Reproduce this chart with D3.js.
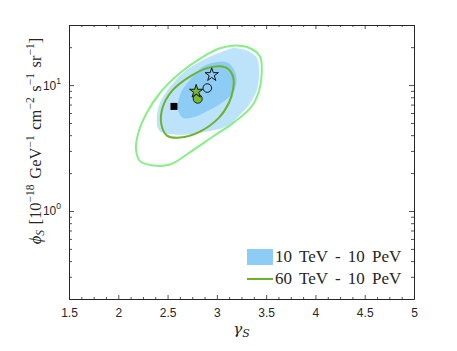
<!DOCTYPE html>
<html><head><meta charset="utf-8">
<script src="https://cdn.jsdelivr.net/npm/d3@7"></script>
<style>body{margin:0;background:#fff}svg{display:block}</style>
</head><body>
<svg id="c" width="457" height="351"></svg>
<script>
// ---- data ----
const xTicks = [1.5, 2, 2.5, 3, 3.5, 4, 4.5, 5];
const xTickLabels = ["1.5", "2", "2.5", "3", "3.5", "4", "4.5", "5"];
const yTicks = [1, 10];
const yTickExp = ["0", "1"];
// 10 TeV - 10 PeV, outer (2 sigma) region
const outerBlue = [[3.164,19.73],[3.316,18.68],[3.407,16.44],[3.428,12.52],[3.407,9.18],[3.326,6.98],[3.235,5.82],[3.100,4.70],[2.829,4.19],[2.593,4.04],[2.423,4.29],[2.390,5.31],[2.423,7.24],[2.542,10.05],[2.694,13.21],[2.897,16.35],[3.100,19.02]];
// 10 TeV - 10 PeV, inner (1 sigma) region
const innerBlue = [[3.032,15.37],[2.859,14.03],[2.728,11.01],[2.626,8.38],[2.606,6.38],[2.660,5.48],[2.778,5.61],[2.897,6.18],[3.052,7.24],[3.164,8.69],[3.201,11.01],[3.174,13.21],[3.113,15.01]];
// 60 TeV - 10 PeV, outer contour
const outerGreen = [[3.167,20.57],[3.336,19.62],[3.438,16.84],[3.455,12.45],[3.431,9.18],[3.354,6.77],[3.167,5.01],[2.964,3.92],[2.694,2.81],[2.525,2.34],[2.355,2.30],[2.220,2.49],[2.180,3.08],[2.203,4.17],[2.288,6.00],[2.423,8.65],[2.626,12.45],[2.862,16.84],[3.032,19.62]];
// 60 TeV - 10 PeV, inner contour
const innerGreen = [[3.032,14.08],[3.113,13.46],[3.167,11.42],[3.164,9.18],[3.123,7.24],[3.022,5.51],[2.829,4.27],[2.626,3.83],[2.494,3.97],[2.438,4.85],[2.449,6.61],[2.545,9.01],[2.738,11.85],[2.910,13.70]];
// markers
const squarePt = [2.565, 6.77];
const greenCirclePt = [2.806, 7.79];
const openCirclePt = [2.903, 9.47];
const greenStarPt = [2.79, 8.9];
const openStarPt = [2.948, 12.06];
const legendLabels = ["10 TeV - 10 PeV", "60 TeV - 10 PeV"];

// ---- layout ----
const L = 69, R = 414, T = 25, B = 299;
const svg = d3.select("#c");
const x = d3.scaleLinear().domain([1.5, 5]).range([L, R]);
const y = d3.scaleLog().domain([0.2, 30]).range([B, T]);
const axisColor = "#262626";

const line = d3.line().x(d => x(d[0])).y(d => y(d[1])).curve(d3.curveCatmullRomClosed.alpha(0.5));

svg.append("path").attr("d", line(outerBlue)).attr("fill", "#bde3fb");
svg.append("path").attr("d", line(innerBlue)).attr("fill", "#8dcdf5");
svg.append("path").attr("d", line(outerGreen)).attr("fill", "none").attr("stroke", "#86f086").attr("stroke-width", 2);
svg.append("path").attr("d", line(innerGreen)).attr("fill", "none").attr("stroke", "#6cb32a").attr("stroke-width", 2);

// markers
svg.append("rect").attr("x", x(squarePt[0]) - 3.5).attr("y", y(squarePt[1]) - 3.5).attr("width", 7).attr("height", 7).attr("fill", "#000");
svg.append("circle").attr("cx", x(greenCirclePt[0])).attr("cy", y(greenCirclePt[1])).attr("r", 4.5).attr("fill", "#77bb2a").attr("stroke", "#222").attr("stroke-width", 1);
svg.append("circle").attr("cx", x(openCirclePt[0])).attr("cy", y(openCirclePt[1])).attr("r", 4.3).attr("fill", "none").attr("stroke", "#111").attr("stroke-width", 1);
const star = d3.symbol().type(d3.symbolStar).size(55);
svg.append("path").attr("d", star()).attr("transform", `translate(${x(greenStarPt[0])},${y(greenStarPt[1])})`).attr("fill", "#77bb2a").attr("stroke", "#111").attr("stroke-width", 1);
svg.append("path").attr("d", star()).attr("transform", `translate(${x(openStarPt[0])},${y(openStarPt[1])})`).attr("fill", "none").attr("stroke", "#111").attr("stroke-width", 1);

// axes
const xMinor = d3.range(1.5, 5.0001, 0.125).filter(v => Math.abs(v * 2 - Math.round(v * 2)) > 1e-6);
const yMinor = [];
[0.1, 1, 10].forEach(dec => { for (let k = 2; k <= 9; k++) { const v = k * dec; if (v >= 0.2 && v <= 30) yMinor.push(v); } });

const fontTick = "'Liberation Sans', Arial, sans-serif";
// bottom
const gB = svg.append("g").attr("transform", `translate(0,${B})`)
  .call(d3.axisBottom(x).tickValues(xTicks).tickSizeInner(-4).tickSizeOuter(0).tickPadding(9).tickFormat((d, i) => xTickLabels[i]));
svg.append("g").attr("transform", `translate(0,${B})`).call(d3.axisBottom(x).tickValues(xMinor).tickSizeInner(-2).tickSizeOuter(0).tickFormat("")).select(".domain").remove();
// top
svg.append("g").attr("transform", `translate(0,${T})`).call(d3.axisTop(x).tickValues(xTicks).tickSizeInner(-4).tickSizeOuter(0).tickFormat(""));
svg.append("g").attr("transform", `translate(0,${T})`).call(d3.axisTop(x).tickValues(xMinor).tickSizeInner(-2).tickSizeOuter(0).tickFormat("")).select(".domain").remove();
// left
svg.append("g").attr("transform", `translate(${L},0)`)
  .call(d3.axisLeft(y).tickValues(yTicks).tickSizeInner(-5).tickSizeOuter(0).tickFormat(""));
svg.append("g").attr("transform", `translate(${L},0)`).call(d3.axisLeft(y).tickValues(yMinor).tickSizeInner(-3).tickSizeOuter(0).tickFormat("")).select(".domain").remove();
// right
svg.append("g").attr("transform", `translate(${R},0)`).call(d3.axisRight(y).tickValues(yTicks).tickSizeInner(-5).tickSizeOuter(0).tickFormat(""));
svg.append("g").attr("transform", `translate(${R},0)`).call(d3.axisRight(y).tickValues(yMinor).tickSizeInner(-3).tickSizeOuter(0).tickFormat("")).select(".domain").remove();

svg.selectAll(".domain").attr("stroke", axisColor).attr("stroke-width", 1);
svg.selectAll(".tick line").attr("stroke", axisColor).attr("stroke-width", 0.8);
gB.selectAll("text").attr("font-family", fontTick).attr("font-size", 12).attr("fill", axisColor);

// y tick labels with superscripts
yTicks.forEach((v, i) => {
  const t = svg.append("text").attr("x", L - 8).attr("y", y(v) + 4.5).attr("text-anchor", "end")
    .attr("font-family", fontTick).attr("font-size", 12).attr("fill", axisColor);
  t.append("tspan").text("10");
  t.append("tspan").attr("dy", -6).attr("font-size", 8.5).text(yTickExp[i]);
});

// axis titles
const serif = "'DejaVu Serif', 'Liberation Serif', serif";
const xl = svg.append("text").attr("x", (L + R) / 2).attr("y", 334).attr("text-anchor", "middle")
  .attr("font-family", serif).attr("font-size", 15).attr("fill", axisColor);
xl.append("tspan").attr("font-style", "italic").text("γ");
xl.append("tspan").attr("font-style", "italic").attr("font-size", 11).attr("dy", 3).text("S");

const yl = svg.append("text").attr("transform", `translate(41,141) rotate(-90)`).attr("text-anchor", "middle")
  .attr("font-family", "'Liberation Serif', serif").attr("font-size", 16.5).attr("fill", axisColor)
  .attr("word-spacing", 1.5);
function part(txt, opts) { const s = yl.append("tspan").text(txt); if (opts) Object.entries(opts).forEach(([k, v]) => s.attr(k, v)); return s; }
part("ϕ", {"font-style": "italic"});
part("S", {"font-style": "italic", "font-size": 11.5, "dy": 3});
part(" [10", {"dy": -3});
part("−18", {"font-size": 11.5, "dy": -7});
part(" GeV", {"dy": 7});
part("−1", {"font-size": 11.5, "dy": -7});
part(" cm", {"dy": 7});
part("−2", {"font-size": 11.5, "dy": -7});
part(" s", {"dy": 7});
part("−1", {"font-size": 11.5, "dy": -7});
part(" sr", {"dy": 7});
part("−1", {"font-size": 11.5, "dy": -7});
part("]", {"dy": 7});

// legend
svg.append("rect").attr("x", 247).attr("y", 249).attr("width", 26).attr("height", 16).attr("fill", "#8dcdf5");
svg.append("line").attr("x1", 247).attr("x2", 273).attr("y1", 279).attr("y2", 279).attr("stroke", "#6cb32a").attr("stroke-width", 2);
legendLabels.forEach((s, i) => {
  svg.append("text").attr("x", 275).attr("y", 262 + i * 22).attr("font-family", "'Liberation Serif', serif")
    .attr("font-size", 17).attr("word-spacing", 3).attr("fill", axisColor).text(s);
});
</script>
</body></html>
